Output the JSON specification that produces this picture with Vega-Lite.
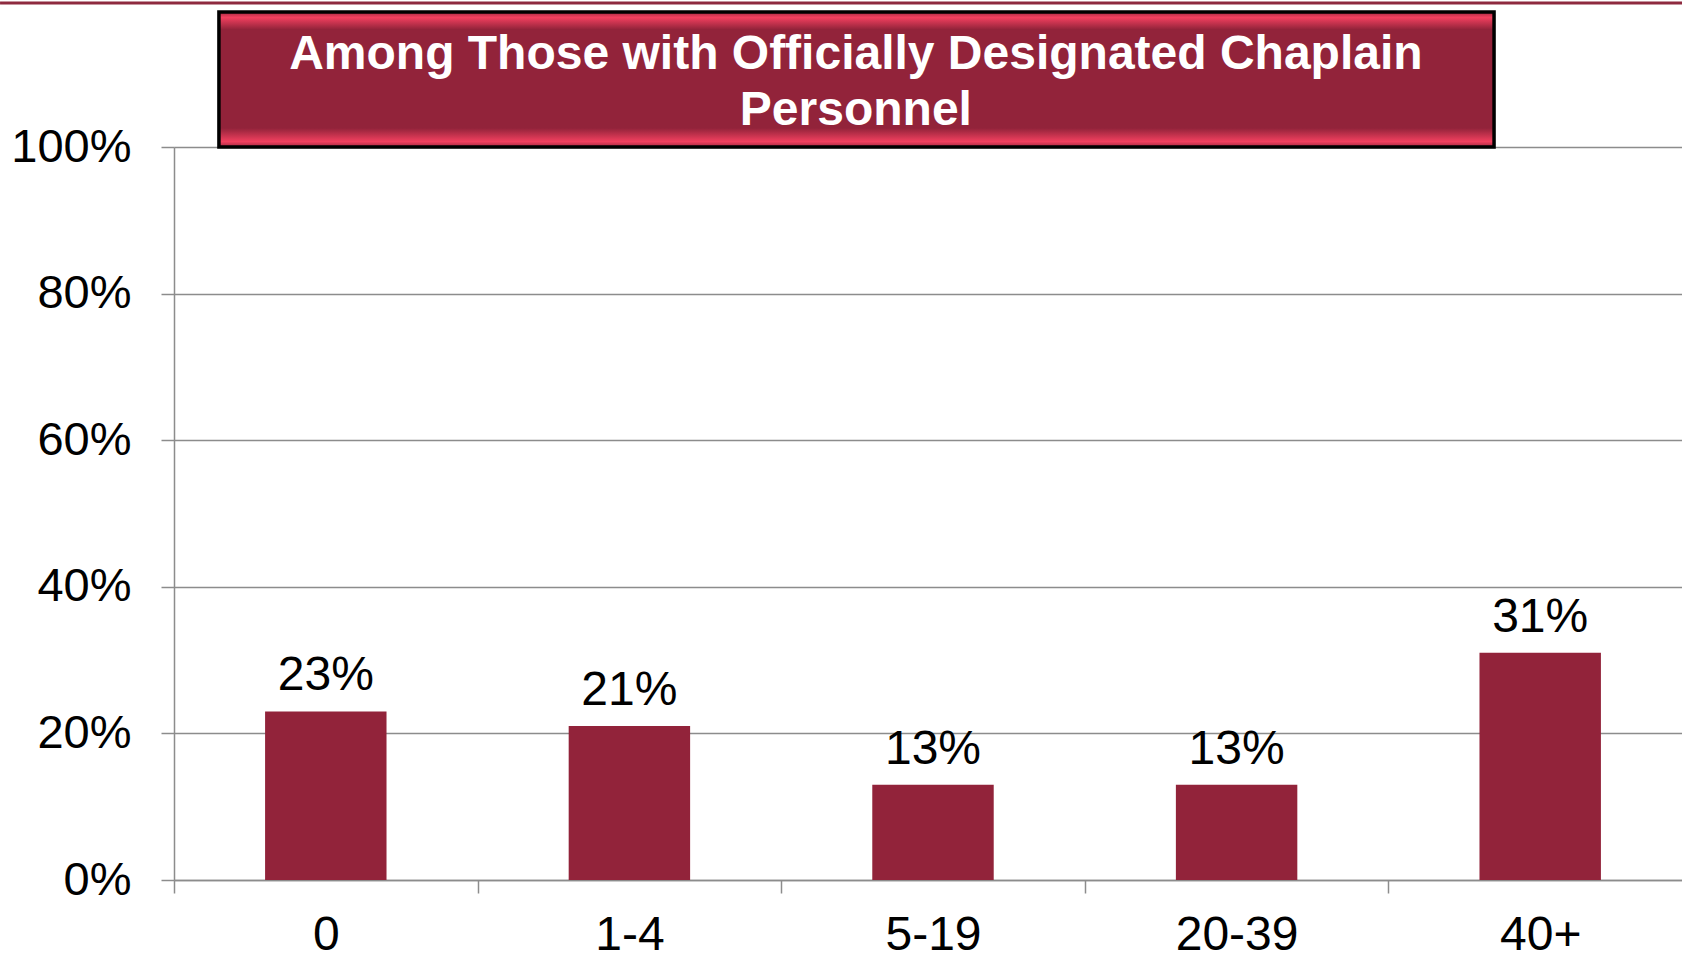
{
  "$schema": "https://vega.github.io/schema/vega-lite/v6.json",
  "autosize": {"type": "none"},
  "width": 1508,
  "height": 733,
  "padding": {"left": 174, "top": 147, "right": 0, "bottom": 80},
  "background": "white",
  "config": {
    "view": {"stroke": null},
    "font": "Liberation Sans",
    "axis": {
      "domainColor": "#8c8c8c",
      "domainWidth": 1.5,
      "tickColor": "#8c8c8c",
      "tickWidth": 1.5,
      "tickSize": 13,
      "gridColor": "#8c8c8c",
      "gridWidth": 1.5,
      "labelColor": "#000000",
      "labelFont": "Liberation Sans",
      "labelFontSize": 48,
      "title": null
    }
  },
  "layer": [
    {
      "data": {"values": [
        {"size": "0", "pct": 0.23},
        {"size": "1-4", "pct": 0.21},
        {"size": "5-19", "pct": 0.13},
        {"size": "20-39", "pct": 0.13},
        {"size": "40+", "pct": 0.31}
      ]},
      "layer": [
        {
          "mark": {"type": "bar", "color": "#92233a", "width": {"band": 0.4}},
          "encoding": {
            "x": {
              "field": "size", "type": "nominal", "sort": null,
              "scale": {"range": [0, 1518], "paddingInner": 0, "paddingOuter": 0},
              "axis": {"tickBand": "extent", "labelAngle": 0, "labelPadding": 18, "grid": false}
            },
            "y": {
              "field": "pct", "type": "quantitative",
              "scale": {"domain": [0, 1], "nice": false},
              "axis": {"values": [0, 0.2, 0.4, 0.6, 0.8, 1], "format": ".0%", "labelPadding": 30, "labelFontSize": 47, "grid": true}
            }
          }
        },
        {
          "mark": {"type": "text", "baseline": "alphabetic", "dy": -21, "fontSize": 48, "color": "#000000", "font": "Liberation Sans"},
          "encoding": {
            "x": {"field": "size", "type": "nominal", "sort": null},
            "y": {"field": "pct", "type": "quantitative"},
            "text": {"field": "pct", "type": "quantitative", "format": ".0%"}
          }
        }
      ]
    },
    {
      "data": {"values": [{"title": "Among Those with Officially Designated Chaplain\nPersonnel"}]},
      "layer": [
        {
          "mark": {
            "type": "rect",
            "stroke": "#000000",
            "strokeWidth": 3.5,
            "clip": false,
            "fill": {
              "gradient": "linear", "x1": 0, "y1": 0, "x2": 0, "y2": 1,
              "stops": [
                {"offset": 0, "color": "#a02840"},
                {"offset": 0.04, "color": "#f2405f"},
                {"offset": 0.13, "color": "#92233a"},
                {"offset": 0.86, "color": "#92233a"},
                {"offset": 0.96, "color": "#f2405f"},
                {"offset": 1, "color": "#a02840"}
              ]
            }
          },
          "encoding": {
            "x": {"datum": "0", "bandPosition": 0.148, "type": "nominal"},
            "x2": {"datum": "40+", "bandPosition": 0.348},
            "y": {"datum": 1.1842, "type": "quantitative"},
            "y2": {"datum": 1.0}
          }
        },
        {
          "mark": {"type": "text", "color": "#ffffff", "fontWeight": "bold", "fontSize": 48, "font": "Liberation Sans", "baseline": "middle", "align": "center", "lineBreak": "\n", "lineHeight": 56},
          "encoding": {
            "x": {"datum": "5-19", "bandPosition": 0.246, "type": "nominal"},
            "y": {"datum": 1.1255, "type": "quantitative"},
            "text": {"field": "title", "type": "nominal"}
          }
        }
      ]
    },
    {
      "data": {"values": [{"line": "top"}]},
      "mark": {"type": "rule", "color": "#8e2a3f", "strokeWidth": 3},
      "encoding": {
        "x": {"datum": "0", "bandPosition": -0.573, "type": "nominal"},
        "x2": {"datum": "40+", "bandPosition": 0.97},
        "y": {"datum": 1.1965, "type": "quantitative"}
      }
    }
  ]
}
